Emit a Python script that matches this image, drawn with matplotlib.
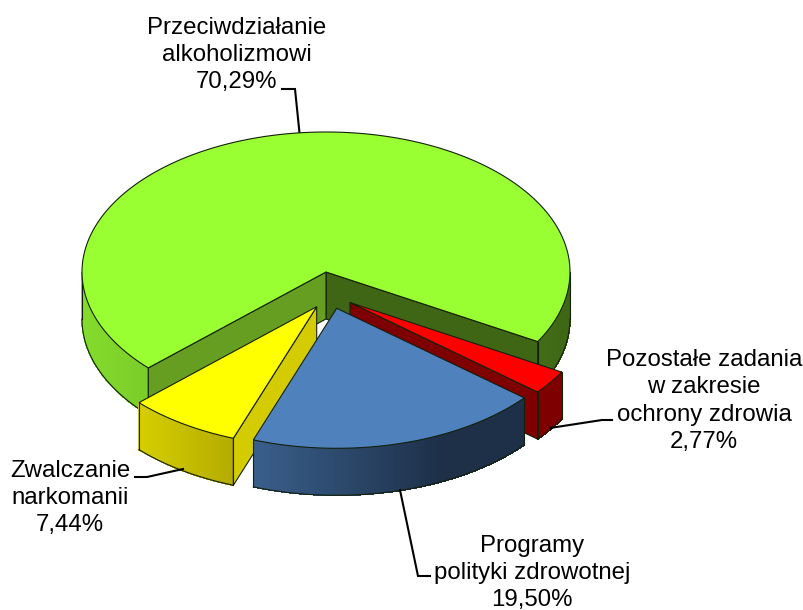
import numpy as np
import matplotlib
matplotlib.use('Agg')
import matplotlib.pyplot as plt
from matplotlib.colors import to_rgb

plt.rcParams['font.family'] = ['Liberation Sans', 'DejaVu Sans']

# data, in drawing order round the pie (clockwise on screen)
names = ['Pozostałe zadania\nw zakresie\nochrony zdrowia', 'Programy\npolityki zdrowotnej',
         'Zwalczanie\nnarkomanii', 'Przeciwdziałanie\nalkoholizmowi']
shares = [2.77, 19.50, 7.44, 70.29]
share_labels = ['2,77%', '19,50%', '7,44%', '70,29%']
top_colors = ['#FF0000', '#4F81BD', '#FFFF00', '#99FF33']
face_colors = ['#7F0000', None, '#D4CC00', '#3E6615']
wall_left = ['#7F0000', '#3A5F8C', '#D6CE00', '#84DC2C']
wall_right = ['#7F0000', '#1D3048', '#B3AB00', '#3E6615']

# pie geometry in pixels
RX, RY, DEPTH = 244, 140, 47
START = 29.8
centers = [(350, 302.5), (336.7, 308.3), (316.7, 306.7), (326, 272)]
EDGE = '#14200a'

fig = plt.figure(figsize=(8.04, 6.10), dpi=100)
ax = fig.add_axes([0, 0, 1, 1])
ax.set_xlim(0, 804)
ax.set_ylim(610, 0)
ax.axis('off')


def arc(cx, cy, a0, a1, n=200):
    t = np.radians(np.linspace(a0, a1, n))
    return cx + RX * np.cos(t), cy + RY * np.sin(t)


def draw_wall(cx, cy, a0, a1, c0, c1, x0, x1, z):
    # outer wall as thin strips so the shading runs left to right
    a0, a1 = max(a0, 0), min(a1, 180)
    if a1 <= a0:
        return
    xs, ys = arc(cx, cy, a0, a1, 120)
    c0, c1 = np.array(to_rgb(c0)), np.array(to_rgb(c1))
    for i in range(len(xs) - 1):
        f = np.clip(((xs[i] + xs[i + 1]) / 2 - x0) / (x1 - x0), 0, 1)
        col = c0 + (c1 - c0) * f
        ax.fill([xs[i], xs[i + 1], xs[i + 1], xs[i]],
                [ys[i], ys[i + 1], ys[i + 1] + DEPTH, ys[i] + DEPTH],
                facecolor=col, edgecolor=col, linewidth=0.5, antialiased=False, zorder=z)
    ax.plot(xs, ys + DEPTH, color=EDGE, lw=0.8, zorder=z + 0.1)
    ax.plot([xs[0], xs[0]], [ys[0], ys[0] + DEPTH], color=EDGE, lw=0.8, zorder=z + 0.1)
    ax.plot([xs[-1], xs[-1]], [ys[-1], ys[-1] + DEPTH], color=EDGE, lw=0.8, zorder=z + 0.1)


def draw_face(cx, cy, a, col, z):
    # flat cut face between the centre and the rim
    px, py = arc(cx, cy, a, a, 1)
    ax.fill([cx, px[0], px[0], cx], [cy, py[0], py[0] + DEPTH, cy + DEPTH],
            facecolor=col, edgecolor=EDGE, linewidth=0.8, zorder=z)


def draw_top(cx, cy, a0, a1, col, z):
    xs, ys = arc(cx, cy, a0, a1, 400)
    ax.fill(np.r_[cx, xs], np.r_[cy, ys], facecolor=col, edgecolor=EDGE, linewidth=0.8, zorder=z)


angles = START + np.r_[0, np.cumsum(shares)] * 3.6
a_red, a_blue, a_yel, a_green = [(angles[i], angles[i + 1]) for i in range(4)]

# green slice, back of the picture
cx, cy = centers[3]
a0, a1 = a_green
draw_wall(cx, cy, a0, 180, wall_left[3], wall_right[3], 82, 570, 1)
draw_wall(cx, cy, 0, a1 - 360, wall_left[3], wall_right[3], 82, 570, 1)
draw_face(cx, cy, a1, '#3E6615', 2)
draw_face(cx, cy, a0, '#669E22', 2)
draw_top(cx, cy, a0, a1, top_colors[3], 3)

# red slice
cx, cy = centers[0]
draw_wall(cx, cy, a_red[0], a_red[1], wall_left[0], wall_right[0], 530, 565, 4)
draw_face(cx, cy, a_red[1], face_colors[0], 4)
draw_top(cx, cy, a_red[0], a_red[1], top_colors[0], 5)

# yellow slice
cx, cy = centers[2]
draw_wall(cx, cy, a_yel[0], a_yel[1], wall_left[2], wall_right[2], 139, 234, 6)
draw_face(cx, cy, a_yel[0], face_colors[2], 6)
draw_top(cx, cy, a_yel[0], a_yel[1], top_colors[2], 7)

# blue slice in front
cx, cy = centers[1]
draw_wall(cx, cy, a_blue[0], a_blue[1], wall_left[1], wall_right[1], 252, 440, 8)
draw_top(cx, cy, a_blue[0], a_blue[1], top_colors[1], 9)

# leader lines
leaders = [
    ([299.5, 295, 282], [133, 89, 89]),
    ([550, 602, 612], [428, 420, 420]),
    ([400, 418, 430], [490, 576, 576]),
    ([183, 147, 135], [469, 477, 477]),
]
for lx, ly in leaders:
    ax.plot(lx, ly, color='black', lw=1.5, solid_joinstyle='miter', zorder=0.5 if lx[0] == 299.5 else 10)

# labels, the bottom one sits just inside the lower edge so its comma is not cut
label_pos = [(704, 401), (532, 573), (70, 498), (237, 55)]
for name, share, (tx, ty) in zip(names, share_labels, label_pos):
    ax.text(tx, ty, name + '\n' + share, ha='center', va='center', fontsize=17.3,
            linespacing=1.32, color='black', zorder=11)

fig.savefig('out.png', dpi=100)
